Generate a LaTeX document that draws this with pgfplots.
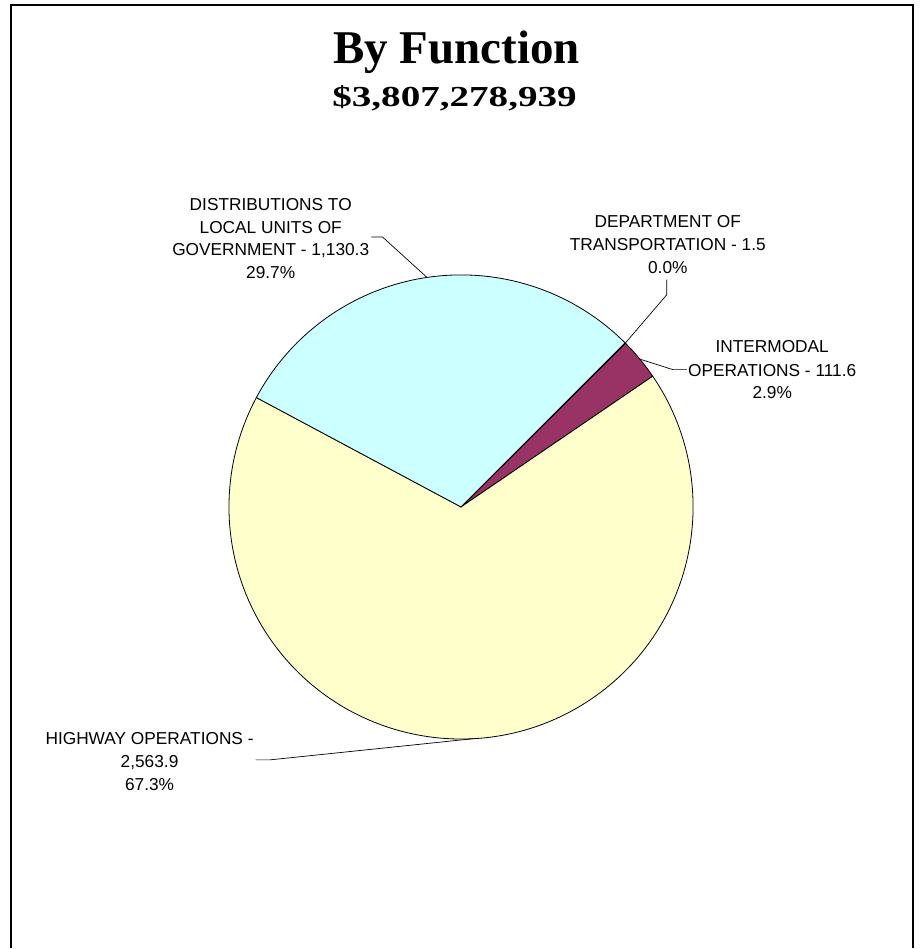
\documentclass[border=0pt]{standalone}
\usepackage{pgfplots}
\pgfplotsset{compat=1.18}
\usepackage{fontspec}
\setmainfont{Liberation Sans}
\newfontfamily\titlefont{Liberation Serif}

\definecolor{dotblue}{HTML}{9999FF}
\definecolor{intmaroon}{HTML}{993366}
\definecolor{hwyyellow}{HTML}{FFFFCC}
\definecolor{distcyan}{HTML}{CCFFFF}

% slice values (millions), in the order they are drawn, clockwise from 45 deg
\def\vDot{1.5}
\def\vInt{111.6}
\def\vHwy{2563.9}
\def\vDist{1130.3}

\newcommand\lbl{\fontsize{17.3}{23}\selectfont}

\begin{document}
\begin{tikzpicture}
\pgfmathsetmacro\tot{\vDot+\vInt+\vHwy+\vDist}
\pgfmathsetmacro\aA{45}
\pgfmathsetmacro\aB{\aA-(\vDot/\tot)*360}
\pgfmathsetmacro\aC{\aB-(\vInt/\tot)*360}
\pgfmathsetmacro\aD{\aC-(\vHwy/\tot)*360}
\pgfmathsetmacro\aE{\aD-(\vDist/\tot)*360}
\def\cx{461.5}\def\cy{441.5}\def\rr{232.3}
% leader ends on the rim, at the middle of each slice
\pgfmathsetmacro\xDot{\cx+\rr*cos((\aA+\aB)/2)}\pgfmathsetmacro\yDot{\cy+\rr*sin((\aA+\aB)/2)}
\pgfmathsetmacro\xInt{\cx+\rr*cos((\aB+\aC)/2)}\pgfmathsetmacro\yInt{\cy+\rr*sin((\aB+\aC)/2)}
\pgfmathsetmacro\xHwy{\cx+\rr*cos((\aC+\aD)/2)}\pgfmathsetmacro\yHwy{\cy+\rr*sin((\aC+\aD)/2)}
\pgfmathsetmacro\xDist{\cx+\rr*cos((\aD+\aE)/2)}\pgfmathsetmacro\yDist{\cy+\rr*sin((\aD+\aE)/2)}

\begin{axis}[
    x=1pt, y=1pt,
    xmin=0, xmax=921, ymin=0, ymax=949,
    hide axis, clip=false,
]
    % page extent
    \path (axis cs:0,0) rectangle (axis cs:921,949);

    % slices
    \filldraw[fill=dotblue, draw=black, line width=0.8pt] (axis cs:\cx,\cy) -- ++(\aA:\rr pt) arc[start angle=\aA, end angle=\aB, radius=\rr pt] -- cycle;
    \filldraw[fill=intmaroon, draw=black, line width=0.8pt] (axis cs:\cx,\cy) -- ++(\aB:\rr pt) arc[start angle=\aB, end angle=\aC, radius=\rr pt] -- cycle;
    \filldraw[fill=hwyyellow, draw=black, line width=0.8pt] (axis cs:\cx,\cy) -- ++(\aC:\rr pt) arc[start angle=\aC, end angle=\aD, radius=\rr pt] -- cycle;
    \filldraw[fill=distcyan, draw=black, line width=0.8pt] (axis cs:\cx,\cy) -- ++(\aD:\rr pt) arc[start angle=\aD, end angle=\aE, radius=\rr pt] -- cycle;

    % leader lines
    \draw[line width=0.7pt] (axis cs:371.7,711.7) -- (axis cs:383,711.7) -- (axis cs:\xDist,\yDist);
    \draw[line width=0.7pt] (axis cs:667.5,669) -- (axis cs:667.5,654) -- (axis cs:\xDot,\yDot);
    \draw[line width=0.7pt] (axis cs:687.5,579) -- (axis cs:673.5,579) -- (axis cs:\xInt,\yInt);
    \draw[line width=0.7pt] (axis cs:256,188.3) -- (axis cs:270,188.3) -- (axis cs:\xHwy,\yHwy);

    % data labels
    \node[anchor=base, inner sep=0, font=\lbl] at (axis cs:271,738.3) {DISTRIBUTIONS TO};
    \node[anchor=base, inner sep=0, font=\lbl] at (axis cs:271,715.7) {LOCAL UNITS OF};
    \node[anchor=base, inner sep=0, font=\lbl] at (axis cs:271,693) {GOVERNMENT - 1,130.3};
    \node[anchor=base, inner sep=0, font=\lbl] at (axis cs:271,670) {29.7\%};

    \node[anchor=base, inner sep=0, font=\lbl] at (axis cs:668.5,721.3) {DEPARTMENT OF};
    \node[anchor=base, inner sep=0, font=\lbl] at (axis cs:668.5,698.7) {TRANSPORTATION - 1.5};
    \node[anchor=base, inner sep=0, font=\lbl] at (axis cs:668.5,675.7) {0.0\%};

    \node[anchor=base, inner sep=0, font=\lbl] at (axis cs:773,595.7) {INTERMODAL};
    \node[anchor=base, inner sep=0, font=\lbl] at (axis cs:773,572.3) {OPERATIONS - 111.6};
    \node[anchor=base, inner sep=0, font=\lbl] at (axis cs:773,549.7) {2.9\%};

    \node[anchor=base, inner sep=0, font=\lbl] at (axis cs:149.7,204) {HIGHWAY OPERATIONS -};
    \node[anchor=base, inner sep=0, font=\lbl] at (axis cs:149.7,180.7) {2,563.9};
    \node[anchor=base, inner sep=0, font=\lbl] at (axis cs:149.7,157.3) {67.3\%};

    % titles
    \node[anchor=base, inner sep=0, font=\titlefont\bfseries\fontsize{47}{50}\selectfont] at (axis cs:457,885.7) {By Function};
    \node[anchor=base, inner sep=0, font=\titlefont\bfseries\fontsize{29}{32}\selectfont] at (axis cs:455,842.3) {\scalebox{1.35}[1]{\$3,807,278,939}};

    % frame (bottom edge lies below the page)
    \draw[line width=2pt] (axis cs:11,0) -- (axis cs:11,944) -- (axis cs:914,944) -- (axis cs:914,0);
\end{axis}
\end{tikzpicture}
\end{document}
